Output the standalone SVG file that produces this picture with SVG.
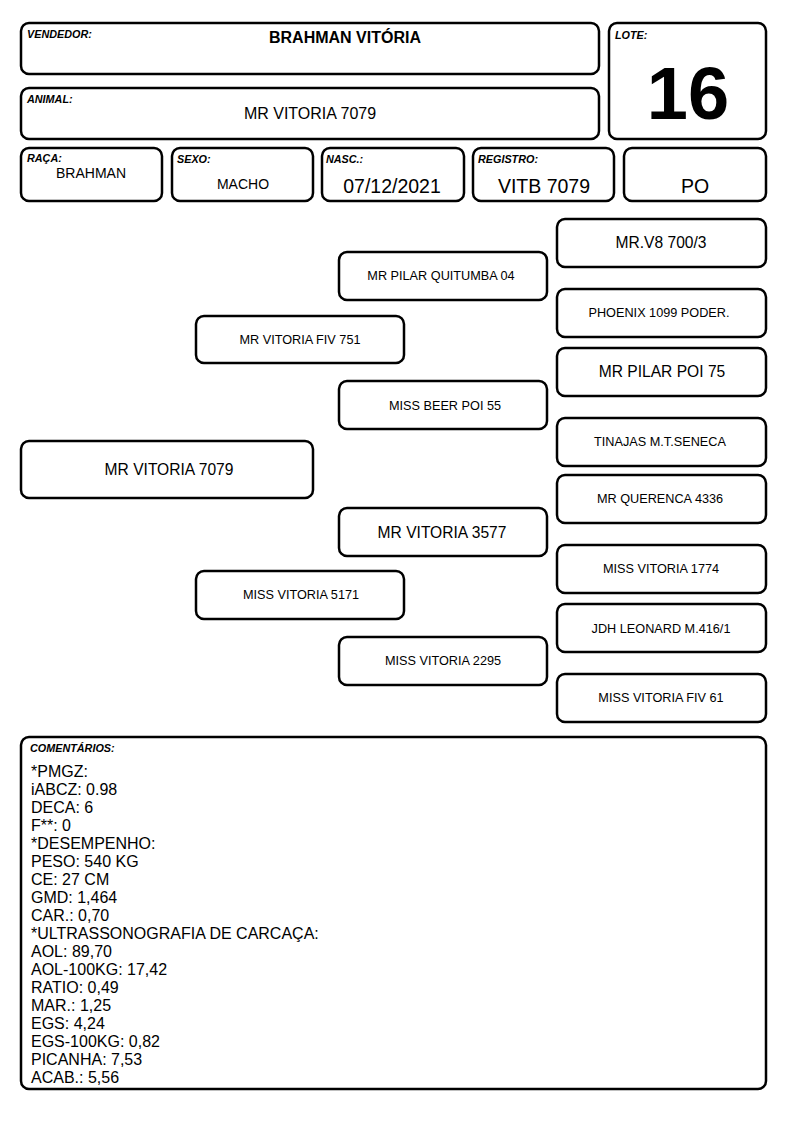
<svg xmlns="http://www.w3.org/2000/svg" width="794" height="1123" viewBox="0 0 794 1123">
<style>
rect.b{fill:#fff;stroke:#000;stroke-width:2.5;}
text{font-family:"Liberation Sans",Arial,sans-serif;fill:#000;}
.lbl{font-size:10.8px;font-weight:bold;font-style:italic;}
.c{text-anchor:middle;}
.s12{font-size:12.7px;}
.s14{font-size:14px;}
.s16{font-size:15.6px;}
.s18{font-size:19.5px;}
.cm{font-size:16px;}
</style>
<rect width="794" height="1123" fill="#fff"/>
<g id="vendedor"><rect class="b" x="21" y="23" width="578" height="51" rx="8"/><text class="lbl" x="27" y="38">VENDEDOR:</text><text class="c" x="345" y="43" font-size="16" font-weight="bold">BRAHMAN VITÓRIA</text></g>
<g id="lote"><rect class="b" x="609" y="23" width="157" height="116" rx="8"/><text class="lbl" x="615" y="39">LOTE:</text><text class="c" x="688" y="119" font-size="74" font-weight="bold">16</text></g>
<g id="animal"><rect class="b" x="21" y="88" width="578" height="51" rx="8"/><text class="lbl" x="27" y="103">ANIMAL:</text><text class="c" x="310" y="119" font-size="16">MR VITORIA 7079</text></g>
<g id="raca"><rect class="b" x="21" y="148" width="141" height="53" rx="8"/><text class="lbl" x="27" y="162">RAÇA:</text><text class="c s14" x="91" y="178">BRAHMAN</text></g>
<g id="sexo"><rect class="b" x="172" y="148" width="141" height="53" rx="8"/><text class="lbl" x="177" y="163">SEXO:</text><text class="c s14" x="243" y="189">MACHO</text></g>
<g id="nasc"><rect class="b" x="322" y="148" width="142" height="53" rx="8"/><text class="lbl" x="326" y="163">NASC.:</text><text class="c s18" x="392" y="193">07/12/2021</text></g>
<g id="registro"><rect class="b" x="473" y="148" width="141" height="53" rx="8"/><text class="lbl" x="478" y="163">REGISTRO:</text><text class="c s18" x="544" y="193">VITB 7079</text></g>
<g id="po"><rect class="b" x="624" y="148" width="142" height="53" rx="8"/><text class="c s18" x="695" y="193">PO</text></g>
<g id="connectors"></g>
<g id="p0"><rect class="b" x="21" y="441" width="292" height="57" rx="8"/><text class="c s16" x="169" y="475">MR VITORIA 7079</text></g>
<g id="p1"><rect class="b" x="196" y="316" width="208" height="47" rx="8"/><text class="c s12" x="300" y="344">MR VITORIA FIV 751</text></g>
<g id="p2"><rect class="b" x="196" y="571" width="208" height="48" rx="8"/><text class="c s12" x="301" y="599">MISS VITORIA 5171</text></g>
<g id="p3"><rect class="b" x="339" y="252" width="208" height="48" rx="8"/><text class="c s12" x="441" y="280">MR PILAR QUITUMBA 04</text></g>
<g id="p4"><rect class="b" x="339" y="381" width="208" height="48" rx="8"/><text class="c s12" x="445" y="410">MISS BEER POI 55</text></g>
<g id="p5"><rect class="b" x="339" y="508" width="208" height="48" rx="8"/><text class="c s16" x="442" y="538">MR VITORIA 3577</text></g>
<g id="p6"><rect class="b" x="339" y="637" width="208" height="48" rx="8"/><text class="c s12" x="443" y="665">MISS VITORIA 2295</text></g>
<g id="p7"><rect class="b" x="557" y="219" width="209" height="48" rx="8"/><text class="c s16" x="661" y="248">MR.V8 700/3</text></g>
<g id="p8"><rect class="b" x="557" y="289" width="209" height="48" rx="8"/><text class="c s12" x="659" y="317">PHOENIX 1099 PODER.</text></g>
<g id="p9"><rect class="b" x="557" y="348" width="209" height="48" rx="8"/><text class="c s16" x="662" y="377">MR PILAR POI 75</text></g>
<g id="p10"><rect class="b" x="557" y="418" width="209" height="48" rx="8"/><text class="c s12" x="660" y="446">TINAJAS M.T.SENECA</text></g>
<g id="p11"><rect class="b" x="557" y="475" width="209" height="48" rx="8"/><text class="c s12" x="660" y="503">MR QUERENCA 4336</text></g>
<g id="p12"><rect class="b" x="557" y="545" width="209" height="48" rx="8"/><text class="c s12" x="661" y="573">MISS VITORIA 1774</text></g>
<g id="p13"><rect class="b" x="557" y="604" width="209" height="48" rx="8"/><text class="c s12" x="661" y="633">JDH LEONARD M.416/1</text></g>
<g id="p14"><rect class="b" x="557" y="674" width="209" height="48" rx="8"/><text class="c s12" x="661" y="702">MISS VITORIA FIV 61</text></g>
<g id="comentarios"><rect class="b" x="21" y="737" width="745" height="352" rx="8"/><text class="lbl" x="30" y="752">COMENTÁRIOS:</text>
<text class="cm" x="31" y="777">*PMGZ:</text>
<text class="cm" x="31" y="795">iABCZ: 0.98</text>
<text class="cm" x="31" y="813">DECA: 6</text>
<text class="cm" x="31" y="831">F**: 0</text>
<text class="cm" x="31" y="849">*DESEMPENHO:</text>
<text class="cm" x="31" y="867">PESO: 540 KG</text>
<text class="cm" x="31" y="885">CE: 27 CM</text>
<text class="cm" x="31" y="903">GMD: 1,464</text>
<text class="cm" x="31" y="921">CAR.: 0,70</text>
<text class="cm" x="31" y="939">*ULTRASSONOGRAFIA DE CARCAÇA:</text>
<text class="cm" x="31" y="957">AOL: 89,70</text>
<text class="cm" x="31" y="975">AOL-100KG: 17,42</text>
<text class="cm" x="31" y="993">RATIO: 0,49</text>
<text class="cm" x="31" y="1011">MAR.: 1,25</text>
<text class="cm" x="31" y="1029">EGS: 4,24</text>
<text class="cm" x="31" y="1047">EGS-100KG: 0,82</text>
<text class="cm" x="31" y="1065">PICANHA: 7,53</text>
<text class="cm" x="31" y="1083">ACAB.: 5,56</text>
</g>
</svg>
